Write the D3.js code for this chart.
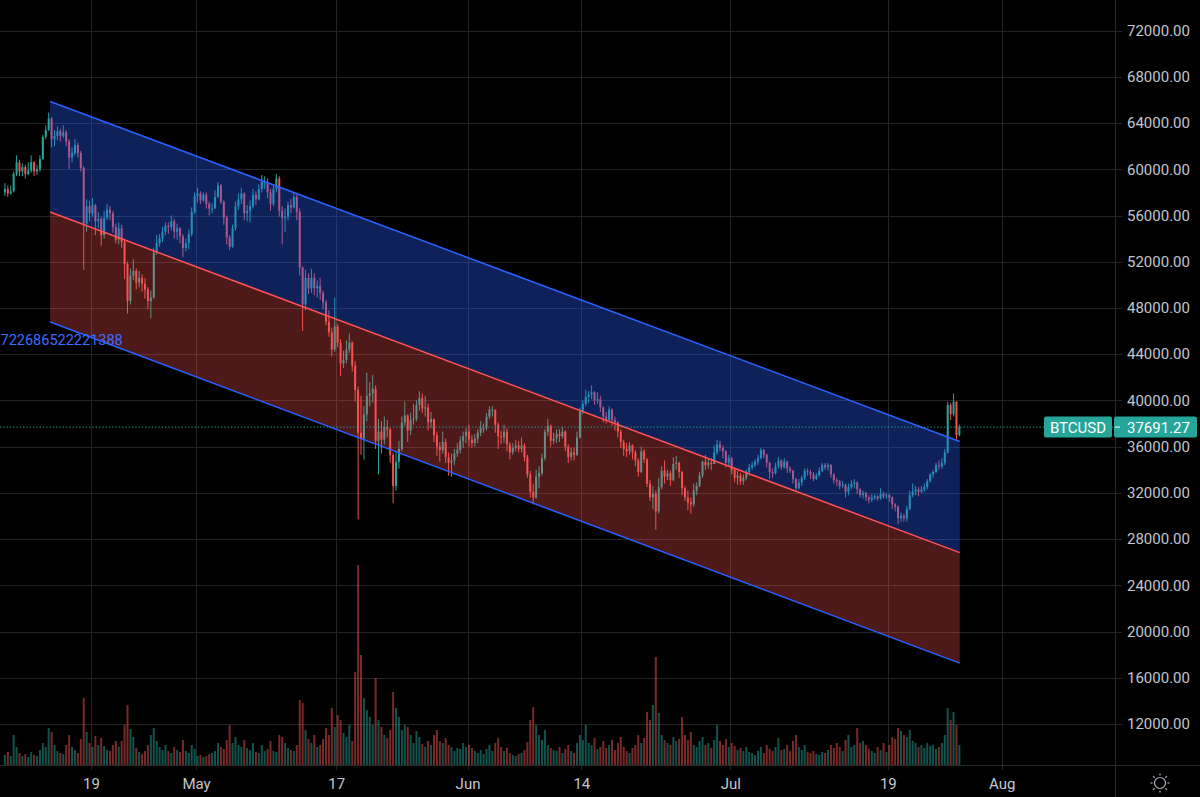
<!DOCTYPE html>
<html><head><meta charset="utf-8">
<script src="https://cdn.jsdelivr.net/npm/d3@7"></script>
<style>html,body{margin:0;padding:0;background:#000;overflow:hidden}svg{display:block}</style>
</head><body>
<svg id="c" width="1200" height="797"></svg>
<script>
// ---------------- DATA ----------------
const symbol = "BTCUSD";
const lastPrice = 37691.27;
const startTime = "2021-04-09T00:00:00Z"; // first 8h bar
const barHours = 8;
const firstOpen = 58.0; // thousands USD
// closes (thousand USD), 3 bars per day from Apr 9 to Jul 26, then Jul 27
const close = [
58.3,57.9,58.1, 59.6,60.6,59.8, 60.2,59.6,59.9, 60.6,59.8,60.0, 60.9,62.8,63.4, 64.4,62.6,62.9, 63.3,62.9,63.2,
62.4,61.0,61.4, 62.1,61.4,60.1, 55.3,56.8,56.2, 56.9,55.5,55.7, 54.3,55.8,56.5, 56.2,55.0,53.9, 54.9,53.7,51.8,
48.6,50.8,51.2, 50.2,50.6,50.1, 49.6,48.6,48.9, 52.8,53.6,54.0, 54.6,55.1,55.0, 55.5,54.6,54.9, 54.2,53.2,53.6,
54.4,56.3,57.7,
57.9,57.3,57.8, 57.0,56.6,56.6, 57.6,58.6,57.2, 55.8,54.1,53.3, 54.9,56.8,57.4, 57.9,56.2,56.4, 56.8,57.8,57.4,
58.3,58.9,58.9, 58.0,57.0,58.3, 59.2,56.4,55.8, 55.9,56.9,56.7, 57.6,56.3,51.5, 48.3,50.6,49.7, 50.6,49.7,49.9,
49.3,48.5,46.8, 45.9,44.4,46.4, 45.0,43.2,43.5, 44.4,45.0,43.0, 40.9,37.2,36.7, 38.8,40.4,40.6, 41.0,36.5,37.3,
36.6,37.7,37.5, 35.3,32.6,34.7, 35.8,38.1,38.7, 37.4,38.3,38.4, 39.6,40.2,39.3, 39.4,38.1,38.4, 37.0,36.0,35.7,
36.4,35.1,34.6, 34.8,35.4,35.7, 36.5,36.9,37.3,
36.6,36.3,36.7, 37.2,37.6,37.6, 38.6,39.2,39.2, 37.9,36.9,36.8, 37.3,36.2,35.5, 35.9,36.1,35.8, 36.1,35.1,33.6,
32.1,31.6,33.4, 33.7,35.0,37.3, 37.8,36.5,36.7, 37.1,36.9,37.3, 36.0,35.1,35.5, 35.3,36.8,39.1, 39.7,40.3,40.5,
40.7,40.0,40.1, 39.4,38.6,38.3, 39.2,38.3,38.1, 37.3,36.4,35.8, 35.6,36.1,35.5, 34.8,33.8,35.6, 34.9,32.8,31.6,
31.9,30.4,32.5, 33.9,33.4,33.7, 33.1,34.5,34.6, 33.8,32.4,31.6, 31.2,31.0,32.2, 32.6,33.5,34.7, 34.4,34.6,34.5,
35.5,36.2,35.9, 35.6,34.6,35.0,
34.0,33.3,33.5, 33.0,33.3,33.8, 34.2,34.4,34.7, 35.0,35.7,35.3, 34.6,33.8,33.7, 34.3,34.8,34.2, 34.7,34.1,33.9,
33.2,32.4,32.9, 33.3,33.9,33.8, 33.6,33.2,33.5, 33.9,34.4,34.2, 34.4,33.6,33.1, 33.0,32.6,32.7, 32.1,32.5,32.8,
32.9,32.3,31.8, 32.0,31.6,31.4, 31.6,31.7,31.5, 31.9,31.7,31.8, 31.6,31.0,30.8, 29.8,30.0,29.8, 30.6,31.8,32.1,
32.3,32.1,32.3, 32.5,33.0,33.6, 33.8,34.4,34.3, 34.6,35.5,39.6, 38.8,39.9,37.0,
37.69127
];
const high = [
58.8,58.6,58.6, 59.8,61.2,60.8, 60.5,60.4,60.6, 61.2,60.7,60.4, 61.2,63.0,63.8, 64.9,64.5,63.4, 63.7,63.5,63.8,
63.4,62.6,61.9, 62.6,62.3,61.6, 60.3,57.4,57.3, 57.5,57.0,56.3, 55.9,56.4,57.0, 56.8,56.4,55.3, 55.4,55.2,54.0,
52.0,51.4,52.2, 51.4,51.2,50.9, 50.6,49.8,49.5, 53.2,54.3,54.4, 55.0,55.4,55.4, 56.0,55.7,55.3, 55.0,54.4,54.0,
54.8,56.7,58.0,
58.4,58.1,58.0, 58.0,57.2,57.1, 58.2,58.9,58.7, 57.3,56.0,54.3, 55.2,57.2,57.9, 58.4,58.0,56.9, 57.3,58.3,58.1,
58.7,59.5,59.4, 59.2,58.3,58.6, 59.6,59.4,56.8, 56.6,57.2,57.4, 58.0,57.8,56.6, 51.6,51.3,51.0, 51.4,51.0,50.4,
50.6,49.5,48.7, 47.8,46.3,48.9, 46.6,45.3,44.3, 45.2,45.8,45.1, 43.4,41.2,40.4, 39.5,42.4,41.6, 42.2,41.3,38.4,
38.2,38.6,38.3, 37.6,35.5,35.5, 36.5,38.6,39.9, 38.8,38.9,39.7, 40.0,40.8,40.6, 40.4,39.7,39.0, 38.4,37.3,36.4,
37.3,36.7,35.5, 35.4,35.8,36.3, 36.9,37.3,37.6,
37.9,37.0,37.1, 37.5,38.2,38.0, 38.9,39.5,39.5, 39.2,38.1,37.4, 37.9,37.6,36.4, 36.3,36.6,36.5, 36.8,36.3,35.3,
33.9,32.8,34.0, 34.3,35.4,37.5, 38.4,37.9,37.2, 37.5,37.5,37.7, 37.4,36.2,35.9, 35.9,37.3,39.4, 40.0,40.9,40.8,
41.3,40.8,40.7, 40.4,39.5,39.0, 39.5,39.3,38.6, 38.2,37.5,36.6, 36.3,36.4,36.2, 35.7,35.0,36.0, 35.8,35.0,33.1,
32.6,32.2,33.3, 34.3,34.8,34.0, 33.9,35.1,35.2, 34.7,33.9,32.6, 32.2,31.6,32.8, 32.9,33.8,34.8, 35.3,35.0,35.0,
36.1,36.6,36.5, 36.1,35.7,35.3,
35.1,34.2,33.9, 33.7,33.6,34.0, 34.5,34.7,34.9, 35.3,35.9,35.8, 35.4,34.7,34.1, 34.6,35.1,34.9, 35.0,34.8,34.3,
34.0,33.3,33.2, 33.5,34.1,34.1, 34.0,33.8,33.7, 34.2,34.6,34.6, 34.6,34.5,33.7, 33.3,33.1,33.0, 32.8,32.8,33.1,
33.2,33.0,32.4, 32.2,32.1,31.8, 31.9,31.9,31.8, 32.4,32.1,32.0, 31.9,31.7,31.1, 30.9,30.3,30.2, 30.9,32.2,32.8,
32.6,32.5,32.6, 32.8,33.2,33.7, 34.0,34.6,34.8, 35.0,35.8,39.9, 39.8,40.6,39.9,
37.9
];
const low = [
57.7,57.6,57.8, 58.0,59.4,59.4, 59.4,59.2,59.5, 59.7,59.4,59.5, 59.8,60.8,62.6, 63.3,61.9,62.0, 62.5,62.4,62.7,
62.0,60.0,60.6, 61.2,61.0,59.8, 51.3,54.6,55.5, 55.9,54.3,54.9, 53.4,54.0,55.6, 55.6,54.5,53.6, 53.5,53.2,50.5,
47.5,48.3,50.4, 49.6,49.8,49.4, 48.8,47.9,47.1, 48.8,52.6,53.3, 53.7,54.3,54.4, 54.7,54.0,53.9, 53.6,52.4,52.9,
53.1,54.2,56.1,
57.1,57.0,57.2, 56.6,56.0,56.2, 56.6,57.5,57.0, 55.2,53.5,53.0, 53.2,54.7,56.5, 57.0,55.6,55.5, 55.4,56.6,56.9,
57.3,58.0,58.3, 57.5,56.4,56.8, 58.0,55.9,53.5, 54.6,55.6,56.2, 56.6,55.6,50.8, 46.0,47.8,49.2, 49.3,49.1,48.9,
48.7,47.9,46.5, 45.5,43.8,44.2, 44.6,42.1,42.8, 43.2,44.1,42.5, 39.9,29.7,35.3, 34.9,38.2,39.5, 39.8,35.8,33.6,
35.4,36.2,36.8, 34.6,31.1,32.2, 34.1,35.6,37.8, 36.4,37.0,37.9, 38.2,39.1,38.9, 38.6,37.4,37.6, 36.4,35.2,34.7,
35.4,34.6,33.5, 33.4,34.4,35.1, 35.4,35.9,36.3,
36.0,35.9,36.0, 36.3,36.9,37.2, 37.4,38.4,38.6, 37.2,35.8,36.2, 36.3,35.6,34.9, 35.3,35.6,35.5, 35.5,34.7,33.3,
31.6,31.0,31.5, 32.4,33.5,34.8, 36.9,36.0,36.2, 36.3,36.4,36.7, 35.6,34.6,34.8, 34.8,35.2,36.7, 38.8,39.5,39.8,
40.1,39.6,39.7, 39.0,38.1,38.0, 38.2,37.8,37.4, 36.8,35.9,35.2, 35.1,35.3,34.9, 34.3,33.4,33.7, 34.6,32.5,31.3,
30.6,28.8,30.2, 32.3,32.8,33.1, 32.6,33.0,34.0, 33.3,31.8,31.3, 30.5,30.2,30.8, 31.8,32.5,33.3, 34.0,34.1,34.0,
34.7,35.3,35.6, 35.0,34.2,34.3,
33.6,32.9,32.7, 32.7,32.7,33.1, 33.5,34.0,34.2, 34.4,34.9,35.0, 34.2,33.2,33.3, 33.6,34.1,34.0, 34.1,33.7,33.7,
32.8,32.1,32.3, 32.6,33.1,33.5, 33.2,33.0,33.1, 33.4,33.8,34.0, 33.9,33.3,32.8, 32.6,32.3,32.4, 31.6,31.8,32.3,
32.4,31.9,31.6, 31.5,31.3,31.1, 31.2,31.4,31.3, 31.4,31.5,31.5, 31.2,30.6,30.4, 29.3,29.5,29.5, 29.5,30.5,31.6,
31.8,31.7,32.0, 32.1,32.3,32.9, 33.3,33.7,34.0, 34.1,34.4,35.4, 38.3,38.6,36.6,
36.9
];
// volume per bar (thousand BTC, estimated)
const volume = [
10,13,9, 30,18,12, 9,11,8, 13,10,9, 15,22,18, 37,33,20, 14,12,11, 20,30,18, 15,12,26, 67,33,22, 18,29,20,
27,19,15, 14,20,24, 18,24,40, 60,36,28, 17,13,11, 14,20,30, 37,24,18, 15,20,14, 12,18,15, 13,25,14, 12,20,16,
9,10,8, 9,11,12, 14,22,18, 16,25,40, 22,28,20, 18,25,17, 15,22,13, 12,20,14, 16,24,14, 13,30,28, 22,17,15,
14,20,65, 62,35,26, 22,30,18, 20,26,37, 30,57,38, 50,45,32, 28,40,24, 93,200,110, 67,55,48, 40,87,45, 38,30,27,
35,73,57, 48,35,40, 38,30,22, 34,28,21, 18,24,20, 30,35,24, 22,27,20, 18,14,17, 16,22,18,
20,17,14, 12,15,11, 16,20,14, 22,27,18, 14,17,12, 10,9,11, 12,15,23, 45,58,40, 30,25,35, 20,17,15, 14,18,12,
16,20,14, 12,22,30, 25,40,22, 20,27,16, 18,24,17, 20,25,15, 22,28,18, 14,12,17, 20,30,22, 27,53,45, 60,108,52,
30,25,22, 20,28,24, 26,48,30, 25,33,20, 18,24,28, 20,22,17, 25,40,24, 20,26,18,
22,19,15, 17,14,18, 13,12,10, 14,18,12, 20,16,14, 18,27,15, 16,20,14, 24,30,18, 15,20,13, 12,14,11, 10,13,12,
15,20,17, 22,18,14, 25,30,18, 20,37,22, 24,20,16, 14,12,18, 15,22,13, 20,28,26, 37,34,30, 28,35,24, 22,18,20,
17,22,19, 20,16,18, 22,30,57, 45,53,40,
20
];
const priceTicks = [12000,16000,20000,24000,28000,32000,36000,40000,44000,48000,52000,56000,60000,64000,68000,72000];
const timeTickDates = ["2021-04-19","2021-05-01","2021-05-17","2021-06-01","2021-06-14","2021-07-01","2021-07-19","2021-08-01"];
const timeTickLabels = ["19","May","17","Jun","14","Jul","19","Aug"];
// regression channel (start, end)
const channelTimes = ["2021-04-14T08:00:00Z","2021-07-27T05:00:00Z"];
const channelUpper = [65870, 36450];
const channelMiddle = [56300, 26830];
const channelLower = [46780, 17270];
const pearsonText = "722686522221388";

// ---------------- CHART ----------------
const W = 1200, H = 797, paneR = 1115, paneB = 765;
const FONT = "Roboto, 'Open Sans', sans-serif";
const svg = d3.select("#c");
svg.append("rect").attr("width", W).attr("height", H).attr("fill", "#000");

const x = d3.scaleUtc()
  .domain([new Date("2021-04-19T00:00:00Z"), new Date("2021-08-01T00:00:00Z")])
  .range([91, 1001.7]);
const y = d3.scaleLinear().domain([12000, 72000]).range([724, 30.6]);
const yVol = d3.scaleLinear().domain([0, 200]).range([paneB, 565]);

const t0 = new Date(startTime).getTime();
const n = Math.min(close.length, high.length, low.length, volume.length);
const bars = d3.range(n).map(i => {
  const o = (i === 0 ? firstOpen : close[i - 1]) * 1000;
  const c = close[i] * 1000;
  return {
    t: new Date(t0 + (i * barHours + barHours / 2) * 3600e3),
    o, c,
    h: Math.max(high[i] * 1000, o, c),
    l: Math.min(low[i] * 1000, o, c),
    v: volume[i]
  };
});

svg.append("defs").append("clipPath").attr("id", "pane")
  .append("rect").attr("x", 0).attr("y", 0).attr("width", paneR).attr("height", paneB);

// grid
const grid = svg.append("g").attr("stroke", "#242424").attr("stroke-width", 1);
grid.selectAll("line.h").data(priceTicks).join("line").attr("class", "h")
  .attr("x1", 0).attr("x2", 1122)
  .attr("y1", d => Math.round(y(d)) + 0.5).attr("y2", d => Math.round(y(d)) + 0.5);
grid.selectAll("line.v").data(timeTickDates).join("line").attr("class", "v")
  .attr("x1", d => Math.round(x(new Date(d + "T00:00:00Z"))) + 0.5)
  .attr("x2", d => Math.round(x(new Date(d + "T00:00:00Z"))) + 0.5)
  .attr("y1", 0).attr("y2", paneB + 5);

// borders
svg.append("line").attr("x1", paneR + 0.5).attr("x2", paneR + 0.5).attr("y1", 0).attr("y2", H)
  .attr("stroke", "#2a2a2a");
svg.append("line").attr("x1", 0).attr("x2", W).attr("y1", paneB + 0.5).attr("y2", paneB + 0.5)
  .attr("stroke", "#2a2a2a");

const pane = svg.append("g").attr("clip-path", "url(#pane)");

// volume
pane.append("g").selectAll("rect").data(bars).join("rect")
  .attr("x", d => x(d.t) - 1).attr("width", 2)
  .attr("y", d => yVol(d.v)).attr("height", d => paneB - yVol(d.v))
  .attr("fill", d => d.c >= d.o ? "rgba(38,166,154,0.5)" : "rgba(239,83,80,0.5)");

// candles
const UP = "#26a69a", DOWN = "#ef5350";
const cg = pane.append("g");
cg.selectAll("line").data(bars).join("line")
  .attr("x1", d => x(d.t)).attr("x2", d => x(d.t))
  .attr("y1", d => y(d.h)).attr("y2", d => y(d.l))
  .attr("stroke", d => d.c >= d.o ? UP : DOWN).attr("stroke-width", 1);
cg.selectAll("rect").data(bars).join("rect")
  .attr("x", d => x(d.t) - 1).attr("width", 2)
  .attr("y", d => y(Math.max(d.o, d.c)))
  .attr("height", d => Math.max(1, Math.abs(y(d.o) - y(d.c))))
  .attr("fill", d => d.c >= d.o ? UP : DOWN);

// regression channel
const ch = [0, 1].map(i => ({ t: new Date(channelTimes[i]), u: channelUpper[i], m: channelMiddle[i], lo: channelLower[i] }));
pane.append("path").datum(ch)
  .attr("d", d3.area().x(d => x(d.t)).y0(d => y(d.m)).y1(d => y(d.u)))
  .attr("fill", "rgba(41,98,255,0.35)");
pane.append("path").datum(ch)
  .attr("d", d3.area().x(d => x(d.t)).y0(d => y(d.lo)).y1(d => y(d.m)))
  .attr("fill", "rgba(255,82,82,0.3)");
const lineOf = key => d3.line().x(d => x(d.t)).y(d => y(d[key]));
pane.append("path").datum(ch).attr("d", lineOf("u")).attr("fill", "none").attr("stroke", "#2962ff").attr("stroke-width", 1.5);
pane.append("path").datum(ch).attr("d", lineOf("lo")).attr("fill", "none").attr("stroke", "#2962ff").attr("stroke-width", 1.5);
pane.append("path").datum(ch).attr("d", lineOf("m")).attr("fill", "none").attr("stroke", "#ff5252").attr("stroke-width", 1.5);

// pearson label (placed at the left edge so that it is not cut off)
svg.append("text").attr("x", 0.5).attr("y", y(channelLower[0]) + 23)
  .attr("text-anchor", "start").attr("fill", "#3d6cff")
  .style("font-family", FONT).style("font-size", "14.5px").text(pearsonText);

// last price line
const yLast = y(lastPrice);
pane.append("line").attr("x1", 0).attr("x2", paneR).attr("y1", yLast).attr("y2", yLast)
  .attr("stroke", "#26a69a").attr("stroke-width", 1).attr("stroke-dasharray", "1.3 2");

// price axis
const pa = svg.append("g").attr("transform", `translate(${paneR},0)`)
  .call(d3.axisRight(y).tickValues(priceTicks).tickFormat(d => d.toFixed(2)).tickSize(0).tickPadding(12));
pa.select(".domain").remove();
pa.selectAll("text").attr("fill", "#c3c6ce").style("font-family", FONT).style("font-size", "15px");

// time axis
const ta = svg.append("g").attr("transform", `translate(0,${paneB})`)
  .call(d3.axisBottom(x).tickValues(timeTickDates.map(d => new Date(d + "T00:00:00Z")))
    .tickFormat((d, i) => timeTickLabels[i]).tickSize(0).tickPadding(13));
ta.select(".domain").remove();
ta.selectAll("text").attr("fill", "#c3c6ce").style("font-family", FONT).style("font-size", "15px");

// symbol / last price labels
const lab = svg.append("g");
lab.append("rect").attr("x", 1044).attr("y", yLast - 10.5).attr("width", 68).attr("height", 21).attr("rx", 2).attr("fill", "#26a69a");
lab.append("text").attr("x", 1078).attr("y", yLast + 5.5).attr("text-anchor", "middle").attr("fill", "#fff")
  .style("font-family", FONT).style("font-size", "15px").text(symbol);
lab.append("rect").attr("x", paneR - 1).attr("y", yLast - 10.5).attr("width", 83).attr("height", 21).attr("rx", 2).attr("fill", "#26a69a");
lab.append("line").attr("x1", paneR).attr("x2", paneR + 5).attr("y1", yLast).attr("y2", yLast).attr("stroke", "#fff");
lab.append("text").attr("x", paneR + 12).attr("y", yLast + 5.5).attr("fill", "#fff")
  .style("font-family", FONT).style("font-size", "15px").text(lastPrice.toFixed(2));

// settings (sun) icon
const sun = svg.append("g").attr("transform", "translate(1160,783)").attr("stroke", "#b2b5be").attr("fill", "none").attr("stroke-width", 1.2);
sun.append("circle").attr("r", 5.5);
sun.selectAll("line").data(d3.range(8)).join("line")
  .attr("x1", d => 7.5 * Math.cos(d * Math.PI / 4)).attr("y1", d => 7.5 * Math.sin(d * Math.PI / 4))
  .attr("x2", d => 9.5 * Math.cos(d * Math.PI / 4)).attr("y2", d => 9.5 * Math.sin(d * Math.PI / 4));
</script>
</body></html>
